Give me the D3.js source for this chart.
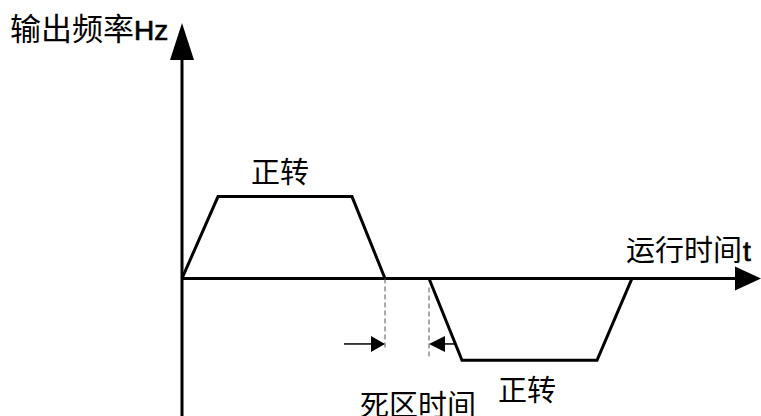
<!DOCTYPE html>
<meta charset="utf-8">
<style>
body { margin: 0; background: #fff; }
.cjk { font-family: "Noto Sans CJK SC", sans-serif; font-size: 29px; fill: #000; }
.lat { font-family: "Liberation Sans", Arial, sans-serif; font-size: 28px; fill: #000; stroke: #000; stroke-width: 0.7px; }
.wave { fill: none; stroke: #000; stroke-width: 3px; stroke-linejoin: miter; }
.dash { stroke: #555; stroke-width: 1px; stroke-dasharray: 5,3; }
</style>
<body>
<script src="https://d3js.org/d3.v7.min.js"></script>
<script>

// forward run: time / frequency corner points
var fwdTime = [0, 36, 170, 203];
var fwdFreq = [0, 50, 50, 0];
// second run (drawn below the axis)
var revTime = [247, 280, 415, 450];
var revFreq = [0, -50, -50, 0];
// dead time between the two runs
var deadStart = 203, deadEnd = 247;

var yLabel = "输出频率", yUnit = "Hz";
var xLabel = "运行时间", xUnit = "t";
var runLabel1 = "正转", runLabel2 = "正转", deadLabel = "死区时间";

var W = 761, H = 416;

var x = d3.scaleLinear().domain([0, 579]).range([182, 761]);
var y = d3.scaleLinear().domain([-84, 156]).range([416, 23]);

var svg = d3.select("body").append("svg")
    .attr("width", W)
    .attr("height", H);

var line = d3.line()
    .x(function(d) { return x(d[0]); })
    .y(function(d) { return y(d[1]); });

// axes
svg.append("line")
    .attr("x1", x(0)).attr("y1", H)
    .attr("x2", x(0)).attr("y2", y(156) + 30)
    .attr("stroke", "#000").attr("stroke-width", 3);
svg.append("path")
    .attr("d", "M" + x(0) + "," + y(156) + "L" + (x(0) - 12) + "," + (y(156) + 37) +
               "L" + (x(0) + 12) + "," + (y(156) + 37) + "Z")
    .attr("fill", "#000");

svg.append("line")
    .attr("x1", x(0)).attr("y1", y(0))
    .attr("x2", x(579) - 20).attr("y2", y(0))
    .attr("stroke", "#000").attr("stroke-width", 3);
svg.append("path")
    .attr("d", "M" + x(579) + "," + y(0) + "L" + (x(579) - 26) + "," + (y(0) - 12) +
               "L" + (x(579) - 26) + "," + (y(0) + 12) + "Z")
    .attr("fill", "#000");

// frequency curves
svg.append("path")
    .datum(d3.zip(fwdTime, fwdFreq))
    .attr("class", "wave")
    .attr("d", line);
svg.append("path")
    .datum(d3.zip(revTime, revFreq))
    .attr("class", "wave")
    .attr("d", line);

// dead time markers
svg.append("line").attr("class", "dash")
    .attr("x1", x(deadStart)).attr("y1", y(0))
    .attr("x2", x(deadStart)).attr("y2", y(-43));
svg.append("line").attr("class", "dash")
    .attr("x1", x(deadEnd)).attr("y1", y(-5.5))
    .attr("x2", x(deadEnd)).attr("y2", y(-48));

var ay = y(-40);
// left arrow pointing right
svg.append("line")
    .attr("x1", x(deadStart) - 41).attr("y1", ay)
    .attr("x2", x(deadStart) - 12).attr("y2", ay)
    .attr("stroke", "#000").attr("stroke-width", 1.5);
svg.append("path")
    .attr("d", "M" + x(deadStart) + "," + ay + "L" + (x(deadStart) - 14) + "," + (ay - 8) +
               "L" + (x(deadStart) - 14) + "," + (ay + 8) + "Z")
    .attr("fill", "#000");
// right arrow pointing left
svg.append("line")
    .attr("x1", x(deadEnd) + 12).attr("y1", ay)
    .attr("x2", x(deadEnd) + 26).attr("y2", ay)
    .attr("stroke", "#000").attr("stroke-width", 1.5);
svg.append("path")
    .attr("d", "M" + x(deadEnd) + "," + ay + "L" + (x(deadEnd) + 16) + "," + (ay - 8) +
               "L" + (x(deadEnd) + 16) + "," + (ay + 8) + "Z")
    .attr("fill", "#000");

// labels
var t1 = svg.append("text").attr("x", 10).attr("y", 40);
t1.append("tspan").attr("class", "cjk").style("font-size", "31px").text(yLabel);
t1.append("tspan").attr("class", "lat").text(yUnit);

var t2 = svg.append("text").attr("x", 626).attr("y", 261);
t2.append("tspan").attr("class", "cjk").text(xLabel);
t2.append("tspan").attr("class", "lat").attr("dx", 1).text(xUnit);

svg.append("text").attr("class", "cjk")
    .attr("x", 251).attr("y", 183).text(runLabel1);
svg.append("text").attr("class", "cjk")
    .attr("x", 498).attr("y", 401).text(runLabel2);
svg.append("text").attr("class", "cjk")
    .attr("x", 360).attr("y", 416).text(deadLabel);

</script>
</body>
